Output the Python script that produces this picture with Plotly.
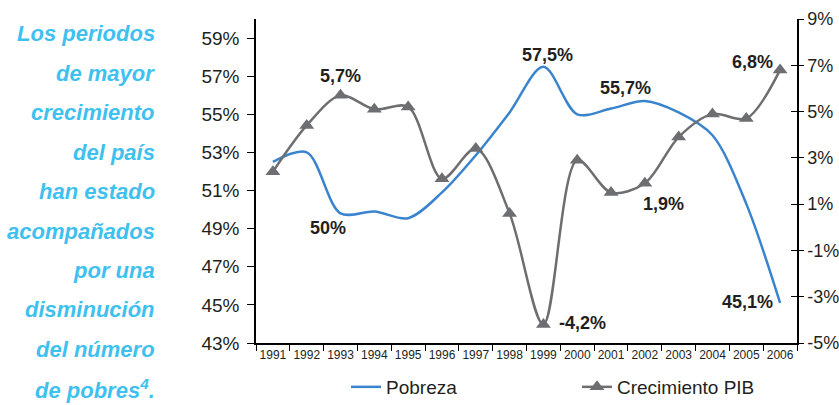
import plotly.graph_objects as go

years = [str(y) for y in range(1991, 2007)]
pobreza = [52.5, 53.0, 49.8, 49.9, 49.55, 50.9, 52.85, 55.1, 57.5, 55.0, 55.3, 55.7, 55.1, 53.9, 50.3, 45.1]
pib = [2.4, 4.4, 5.7, 5.1, 5.2, 2.1, 3.4, 0.6, -4.2, 2.9, 1.5, 1.9, 3.9, 4.9, 4.7, 6.8]

left_ticks = list(range(43, 60, 2))
left_ticktext = [f"{v}%" for v in left_ticks]
right_ticks = list(range(-5, 10, 2))
right_ticktext = [f"{v}%" for v in right_ticks]

side_text = ["Los periodos", "de mayor", "crecimiento", "del país", "han estado",
             "acompañados", "por una", "disminución", "del número", "de pobres<sup>4</sup>."]

# data labels: (year index, text, xshift, yshift)
labels_pob = [(2, "50%", -13, -15), (8, "57,5%", 4, 12), (11, "55,7%", -19, 13), (15, "45,1%", -33, 1)]
labels_pib = [(2, "5,7%", 0, 19), (8, "-4,2%", 39, 1), (11, "1,9%", 19, -21), (15, "6,8%", -28, 8)]

BLUE = "#3A84CE"
GRAY = "#6D6E71"
DARK = "#231F20"
FONT = "Liberation Sans, Arial, sans-serif"

W, H = 839, 405
L, R, T, B = 256, 42, 19, 62
pw, ph = W - L - R, H - T - B

def px_x(x):
    return (x - L) / pw

def px_y(y):
    return (H - B - y) / ph

fig = go.Figure()
fig.add_trace(go.Scatter(x=years, y=pobreza, name="Pobreza", mode="lines",
                         line=dict(color=BLUE, width=2.5, shape="spline", smoothing=0.9),
                         yaxis="y", legend="legend"))
fig.add_trace(go.Scatter(x=years, y=pib, name="Crecimiento PIB", mode="lines+markers",
                         line=dict(color=GRAY, width=2.5, shape="spline", smoothing=0.9),
                         marker=dict(symbol="triangle-up", size=13, color=GRAY),
                         yaxis="y2", legend="legend2"))
fig.add_trace(go.Scatter(x=years, y=[None] * len(years), yaxis="y3", showlegend=False,
                         hoverinfo="skip", mode="lines"))

annotations = []
for i, t in enumerate(side_text):
    yc = 34 + 39.4 * i
    annotations.append(dict(xref="paper", yref="paper", x=px_x(157), y=px_y(yc),
                            xanchor="right", yanchor="middle", showarrow=False,
                            text=f"<b><i>{t}</i></b>",
                            font=dict(family=FONT, size=22, color="#3EC1EE")))
for idx, txt, dx, dy in labels_pob:
    annotations.append(dict(xref="x", yref="y", x=idx, y=pobreza[idx], text=f"<b>{txt}</b>",
                            showarrow=False, xshift=dx, yshift=dy,
                            font=dict(family=FONT, size=18, color=DARK)))
for idx, txt, dx, dy in labels_pib:
    annotations.append(dict(xref="x", yref="y2", x=idx, y=pib[idx], text=f"<b>{txt}</b>",
                            showarrow=False, xshift=dx, yshift=dy,
                            font=dict(family=FONT, size=18, color=DARK)))

fig.update_layout(
    width=W, height=H,
    margin=dict(l=L, r=R, t=T, b=B, pad=0, autoexpand=False),
    paper_bgcolor="white", plot_bgcolor="white",
    font=dict(family=FONT, color=DARK),
    xaxis=dict(type="category", range=[-0.5, 15.5], tickson="boundaries", ticks="outside",
               ticklen=6, tickcolor="black", tickwidth=1, showline=True, linecolor="black",
               linewidth=1.5, showgrid=False, tickangle=0, tickfont=dict(size=12, color=DARK)),
    yaxis=dict(range=[43, 60], tickvals=left_ticks, ticktext=left_ticktext, ticks="outside",
               ticklen=7, tickcolor="black", showline=True, linecolor="black", linewidth=1.5,
               showgrid=False, zeroline=False, tickfont=dict(size=19, color=DARK),
               ticklabelstandoff=4),
    yaxis2=dict(range=[-5, 9], tickvals=right_ticks, ticktext=right_ticktext, ticks="outside",
                ticklen=5, tickcolor="black", overlaying="y", side="right", showline=True,
                linecolor="black", linewidth=1.5, showgrid=False, zeroline=False,
                tickfont=dict(size=18, color=DARK), ticklabelstandoff=0),
    yaxis3=dict(range=[-5, 9], tickvals=right_ticks, ticks="inside", ticklen=6,
                tickcolor="black", overlaying="y", side="right", showticklabels=False,
                showline=False, showgrid=False, zeroline=False),
    legend=dict(orientation="h", x=px_x(346), y=px_y(387), xanchor="left", yanchor="middle",
                font=dict(size=19, color=DARK), bgcolor="rgba(0,0,0,0)"),
    legend2=dict(orientation="h", x=px_x(577), y=px_y(387), xanchor="left", yanchor="middle",
                 font=dict(size=19, color=DARK), bgcolor="rgba(0,0,0,0)"),
    annotations=annotations,
    showlegend=True,
)

fig.write_html("out.html", config={"displayModeBar": False},
               post_script="document.body.style.margin='0';document.body.style.overflow='hidden';")
